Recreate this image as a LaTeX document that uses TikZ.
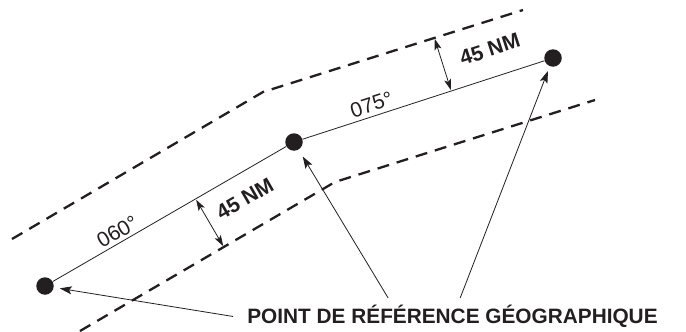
\documentclass[tikz,border=0pt]{standalone}
\usepackage{fontspec}
\setmainfont{Liberation Sans}
\usepackage{tikz}
\usetikzlibrary{positioning,arrows.meta,calc}
\definecolor{ink}{HTML}{231F20}
\tikzset{
  wpt/.style={circle, fill=ink, inner sep=0pt, minimum size=17.5pt},
  leg/.style={ink, line width=0.8pt},
  bnd/.style={ink, line width=2.3pt, dash pattern=on 12pt off 8pt},
  arr/.style={-{Stealth[length=12pt, width=8pt, inset=2.5pt]}, line width=0.8pt, ink},
  dbl/.style={{Stealth[length=11pt, width=7pt, inset=2.5pt]}-{Stealth[length=11pt, width=7pt, inset=2.5pt]}, line width=0.8pt, ink, shorten <=1pt, shorten >=1pt},
  crs/.style={font=\fontsize{21}{25}\selectfont, text=ink, inner sep=1pt},
  nm/.style={font=\fontsize{21}{25}\selectfont\bfseries, text=ink, inner sep=1pt},
  lab/.style={font=\fontsize{20.8}{25}\selectfont\bfseries, text=ink, inner sep=0pt},
}
\begin{document}
\begin{tikzpicture}[x=1pt, y=-1pt]
  \useasboundingbox (0,0) rectangle (686,332);
  % the three points
  \node[wpt] (A) at (45,286) {};
  \node[wpt] (B) at (294,142) {};
  \node[wpt] (C) at (553,58) {};
  % corridor edges
  \coordinate (u1) at (12,239);
  \coordinate (u2) at (263,92);
  \coordinate (u3) at (523,10);
  \coordinate (l1) at (80,331);
  \coordinate (l2) at (335,182);
  \coordinate (l3) at (595,100);
  \draw[bnd] (u1) -- (u2) -- (u3);
  \draw[bnd] (l1) -- (l2) -- (l3);
  % route legs
  \draw[leg] (A) -- node[crs, sloped, above=2pt, pos=0.3] {060°}
                     node[nm, sloped, below=16pt, pos=0.77] {45 NM} (B);
  \draw[leg] (B) -- node[crs, sloped, above=3pt, pos=0.3] {075°}
                     node[nm, sloped, above=19pt, pos=0.81] {45 NM} (C);
  % half widths
  \coordinate (m1) at ($(A)!0.605!(B)$);
  \coordinate (m2) at ($(B)!0.607!(C)$);
  \draw[dbl] (m1) -- ($(l1)!(m1)!(l2)$);
  \draw[dbl] (m2) -- ($(u2)!(m2)!(u3)$);
  % legend
  \node[lab, anchor=base] (txt) at (452.5,323.5) {POINT DE RÉFÉRENCE GÉOGRAPHIQUE};
  \draw[arr, shorten >=6pt] ([xshift=-14pt, yshift=7pt]txt.base west) -- (A);
  \draw[arr, shorten >=8pt] ([xshift=141pt, yshift=25.5pt]txt.base west) -- (B);
  \draw[arr, shorten >=5pt] ([xshift=213pt, yshift=25.5pt]txt.base west) -- (C);
\end{tikzpicture}
\end{document}
